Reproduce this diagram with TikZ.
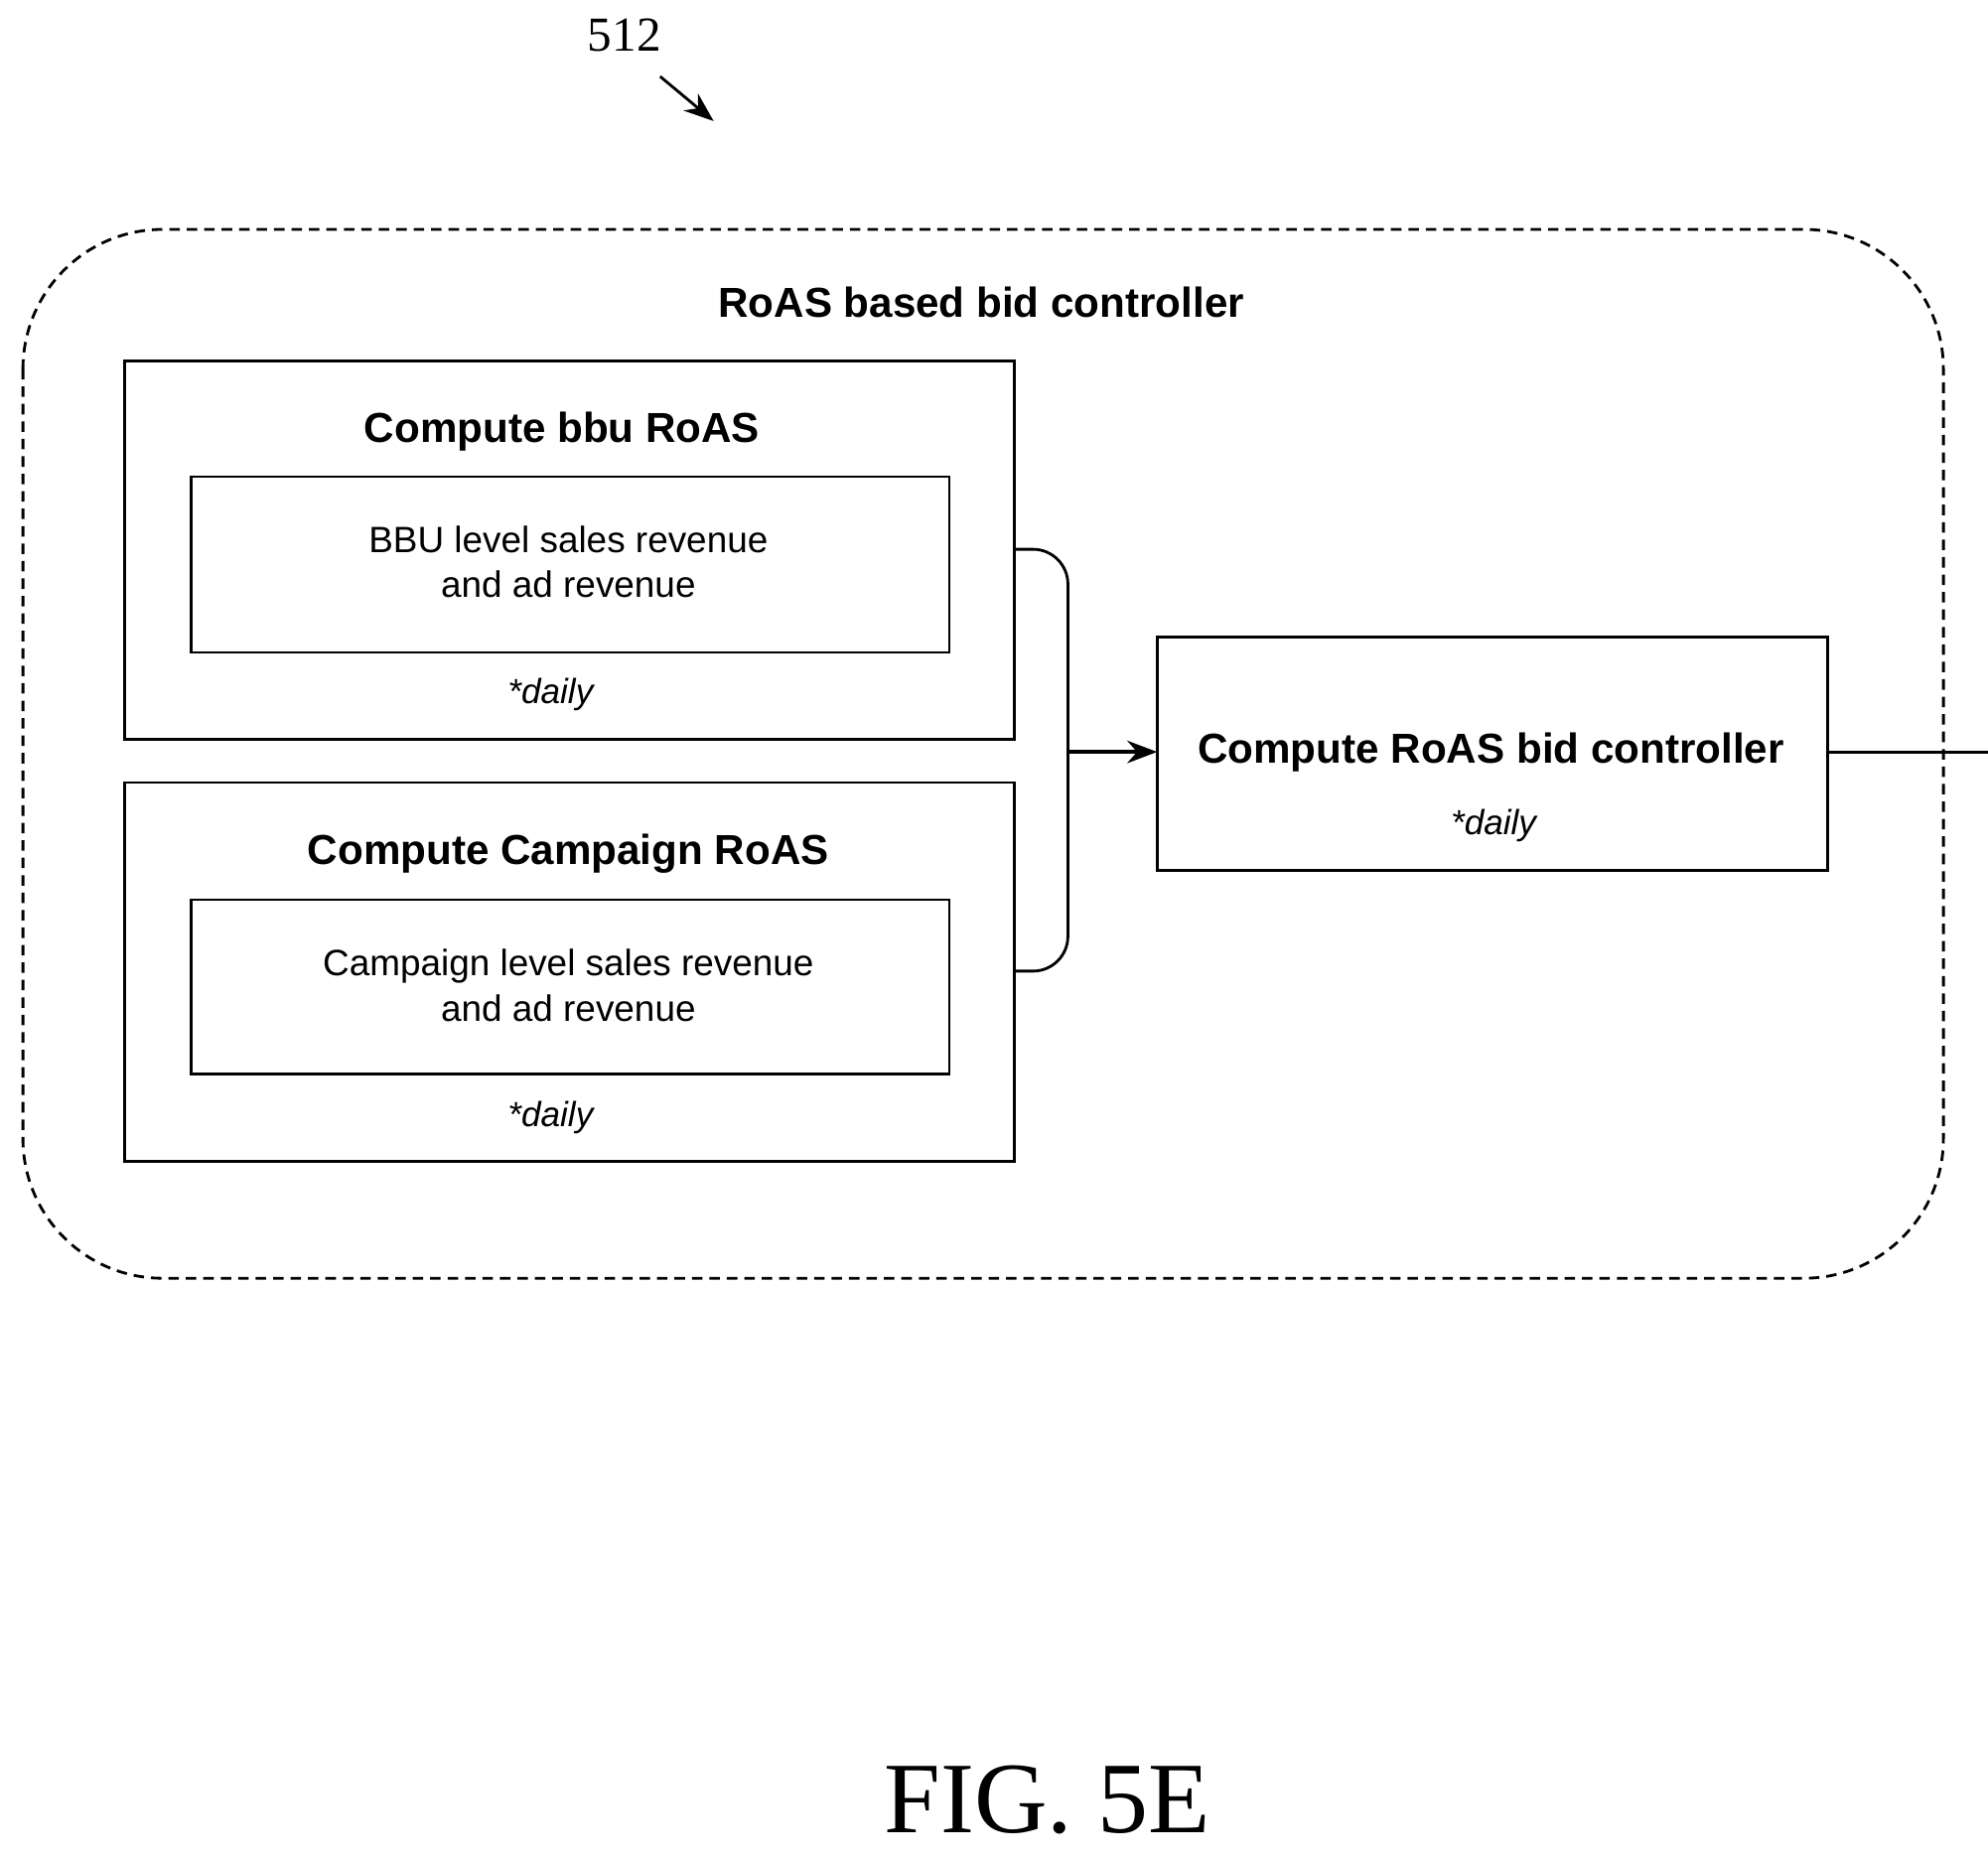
\documentclass[tikz,border=0pt]{standalone}
\usepackage{fontspec}
\setmainfont{Liberation Serif}
\setsansfont{Liberation Sans}
\usetikzlibrary{arrows.meta,positioning}
\begin{document}
\begin{tikzpicture}[
        x=0.01283cm, y=-0.01283cm,
        > = {Stealth[length=3mm]}, % arrow head style
        semithick % line style
    ]
    \tikzset{
        head/.style = {font=\sffamily\bfseries\fontsize{12}{14}\selectfont},
        body/.style = {font=\sffamily\fontsize{10.5}{13}\selectfont, align=center},
        daily/.style = {font=\sffamily\itshape\fontsize{10}{12}\selectfont}
    }
    \useasboundingbox (0,0) rectangle (1560,1460);

    \node (ref) at (490,28) {\fontsize{14}{16}\selectfont 512};
    \coordinate (refA) at (518,60);
    \coordinate (refB) at (560,95);
    \draw[->, thick] (refA) -- (refB);

    \draw[densely dashed, rounded corners=40pt, thick] (18,180) rectangle (1525,1003);
    \node[head] (title) at (770,237) {RoAS based bid controller};

    % upper block
    \draw[thick] (98,283) rectangle (796,580);
    \node[head] (bbu) at (441,339) {Compute bbu RoAS};
    \draw[thick] (150,374) rectangle (745,512);
    \node[body] (bbutxt) at (446,441) {BBU level sales revenue\\and ad revenue};
    \node[daily] (bbud) at (432,545) {*daily};

    % lower block
    \draw[thick] (98,614) rectangle (796,911);
    \node[head] (camp) at (446,670) {Compute Campaign RoAS};
    \draw[thick] (150,706) rectangle (745,843);
    \node[body] (camptxt) at (446,773) {Campaign level sales revenue\\and ad revenue};
    \node[daily] (campd) at (432,877) {*daily};

    % controller
    \draw[thick] (908,500) rectangle (1434,683);
    \node[head] (ctrl) at (1170,590) {Compute RoAS bid controller};
    \node[daily] (ctrld) at (1172,648) {*daily};

    \coordinate (up) at (796,431);
    \coordinate (lo) at (796,762);
    \coordinate (mid) at (838,590);
    \coordinate (in) at (908,590);
    \coordinate (outA) at (1434,590);
    \coordinate (outB) at (1560,590);
    \draw[thick, rounded corners=10pt] (up) -| (mid) |- (lo);
    \draw[->, very thick] (mid) -- (in);
    \draw[thick] (outA) -- (outB);

    \node (fig) at (822,1412) {\fontsize{29}{32}\selectfont FIG. 5E};
\end{tikzpicture}
\end{document}
